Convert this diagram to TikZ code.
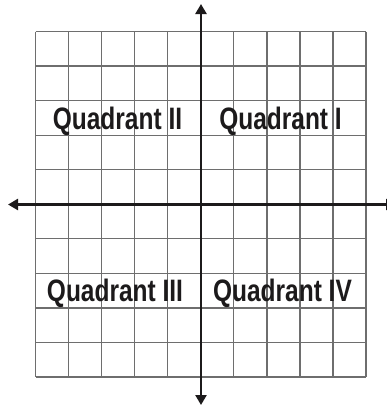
\documentclass[tikz,border=0pt]{standalone}
\usepackage{fontspec}
\usetikzlibrary{arrows.meta}
\newfontfamily\quadfont[FakeStretch=0.79]{Liberation Sans}
\definecolor{gridgray}{HTML}{6E6E6E}
\definecolor{inkdark}{HTML}{1C1A1B}

\begin{document}
\begin{tikzpicture}[x=1bp,y=-1bp,
    gridline/.style={gridgray, line width=1.3bp},
    axisline/.style={inkdark, line width=2.8bp, -{Triangle[width=11bp,length=10bp]}},
    quadlabel/.style={anchor=base, inner sep=0pt, text=inkdark,
        font=\quadfont\bfseries\fontsize{31bp}{36bp}\selectfont}]
                    \useasboundingbox (0,0) rectangle (387,408);
                    % Grid of 10 by 10 squares
                    \foreach \i in {0,...,10} {
                        \draw[gridline] ({35.5+33.05*\i},31.5) -- ({35.5+33.05*\i},377);
                        \draw[gridline] (35.5,{31.5+34.55*\i}) -- (366,{31.5+34.55*\i});
                    }
                    % Axes through the origin
                    \coordinate (origin) at (201,204.5);
                    \coordinate (ytop) at (201,4);
                    \coordinate (ybot) at (201,405);
                    \coordinate (xleft) at (8,204.5);
                    \coordinate (xright) at (396,204.5);
                    \draw[axisline] (origin) -- (ytop);
                    \draw[axisline] (origin) -- (ybot);
                    \draw[axisline] (origin) -- (xleft);
                    \draw[axisline] (origin) -- (xright);
                    % Quadrant labels
                    \node[quadlabel] (q2) at (117.5,129.5) {Quadrant II};
                    \node[quadlabel] (q1) at (280.5,129.5) {Quadrant I};
                    \node[quadlabel] (q3) at (115,301) {Quadrant III};
                    \node[quadlabel] (q4) at (282.5,301) {Quadrant IV};
                \end{tikzpicture}
\end{document}
